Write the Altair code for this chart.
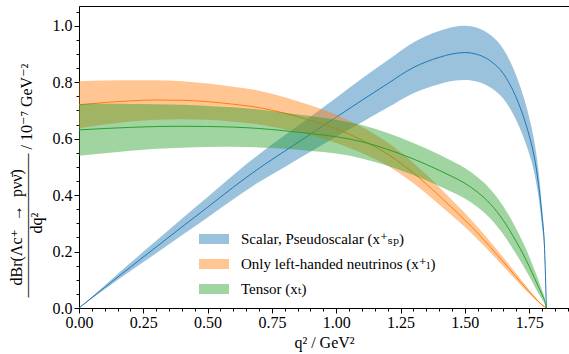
import altair as alt
import pandas as pd

# q^2 grid (GeV^2)
Q = [0.0, 0.1, 0.2, 0.3, 0.4, 0.5, 0.6, 0.7, 0.8, 0.9, 1.0, 1.1, 1.2, 1.3, 1.4,
     1.45, 1.5, 1.55, 1.6, 1.65, 1.7, 1.73, 1.75, 1.77, 1.785, 1.8, 1.81, 1.817]

# Scalar, Pseudoscalar
SP_MID = [0.0, 0.073, 0.145, 0.216, 0.287, 0.357, 0.428, 0.495, 0.556, 0.616, 0.676, 0.736, 0.795, 0.852,
          0.888, 0.900, 0.905, 0.898, 0.875, 0.830, 0.745, 0.672, 0.612, 0.535, 0.450, 0.325, 0.210, 0.0]
SP_LO = [0.0, 0.066, 0.131, 0.194, 0.258, 0.321, 0.385, 0.446, 0.500, 0.554, 0.607, 0.658, 0.710, 0.761,
         0.793, 0.804, 0.808, 0.802, 0.781, 0.741, 0.665, 0.600, 0.547, 0.478, 0.402, 0.290, 0.188, 0.0]
SP_HI = [0.0, 0.080, 0.160, 0.238, 0.316, 0.393, 0.471, 0.545, 0.612, 0.678, 0.745, 0.813, 0.878, 0.941,
         0.981, 0.995, 1.000, 0.992, 0.967, 0.917, 0.823, 0.743, 0.676, 0.591, 0.497, 0.359, 0.232, 0.0]

# Only left-handed neutrinos
L_MID = [0.720, 0.728, 0.734, 0.737, 0.736, 0.731, 0.722, 0.710, 0.690, 0.665, 0.635, 0.595, 0.545, 0.478,
         0.398, 0.355, 0.312, 0.265, 0.215, 0.163, 0.110, 0.078, 0.058, 0.038, 0.024, 0.011, 0.004, 0.0]
L_HI = [0.803, 0.806, 0.807, 0.807, 0.803, 0.795, 0.784, 0.770, 0.747, 0.718, 0.685, 0.641, 0.586, 0.514,
        0.429, 0.383, 0.337, 0.287, 0.234, 0.179, 0.122, 0.087, 0.065, 0.043, 0.027, 0.013, 0.005, 0.0]
L_LO = [0.637, 0.650, 0.661, 0.667, 0.669, 0.667, 0.660, 0.650, 0.633, 0.612, 0.585, 0.549, 0.504, 0.442,
        0.367, 0.327, 0.287, 0.243, 0.196, 0.147, 0.098, 0.069, 0.051, 0.033, 0.021, 0.009, 0.003, 0.0]

# Tensor
T_MID = [0.631, 0.636, 0.640, 0.643, 0.644, 0.643, 0.641, 0.636, 0.628, 0.618, 0.607, 0.589, 0.562, 0.528,
         0.488, 0.466, 0.442, 0.410, 0.368, 0.310, 0.235, 0.185, 0.148, 0.108, 0.078, 0.047, 0.027, 0.0]
T_HI = [0.723, 0.724, 0.723, 0.722, 0.720, 0.716, 0.711, 0.703, 0.692, 0.680, 0.667, 0.648, 0.620, 0.585,
        0.544, 0.521, 0.496, 0.463, 0.420, 0.360, 0.280, 0.225, 0.183, 0.137, 0.102, 0.063, 0.037, 0.0]
T_LO = [0.539, 0.548, 0.557, 0.564, 0.568, 0.570, 0.571, 0.569, 0.564, 0.556, 0.547, 0.530, 0.504, 0.471,
        0.432, 0.411, 0.388, 0.357, 0.316, 0.260, 0.190, 0.145, 0.113, 0.079, 0.054, 0.031, 0.017, 0.0]

NAMES = ["Scalar, Pseudoscalar (x\u207a\u209b\u209a)",
         "Only left-handed neutrinos (x\u207a\u2097)",
         "Tensor (x\u209c)"]
COLORS = ["#1f77b4", "#ff7f0e", "#2ca02c"]

X_MAJOR = [0.0, 0.25, 0.5, 0.75, 1.0, 1.25, 1.5, 1.75]
X_MINOR = [round(0.05 * i, 2) for i in range(39)]
Y_MAJOR = [0.0, 0.2, 0.4, 0.6, 0.8, 1.0]
Y_MINOR = [round(0.05 * i, 2) for i in range(22)]

rows = []
for name, lo, mid, hi in zip(NAMES, [SP_LO, L_LO, T_LO], [SP_MID, L_MID, T_MID], [SP_HI, L_HI, T_HI]):
    for q, a, b, c in zip(Q, lo, mid, hi):
        rows.append({"series": name, "q": q, "lo": a, "mid": b, "hi": c})
df = pd.DataFrame(rows)

FONT = "'Liberation Serif', 'Times New Roman', 'DejaVu Serif', serif"
NB = "\u00a0"
ZW = "\u200b"

xs = alt.Scale(domain=[0, 1.905], nice=False, zero=False)
ys = alt.Scale(domain=[0, 1.07], nice=False, zero=False)
fill_scale = alt.Scale(domain=NAMES, range=COLORS)

legend = alt.Legend(
    title=None, orient="none", legendX=120, legendY=223, padding=0,
    symbolType="M-1,-0.5H2V0.5H-1Z", symbolSize=400, symbolStrokeWidth=0,
    symbolOpacity=0.45, labelFont=FONT, labelFontSize=15, labelColor="black",
    labelOffset=22, rowPadding=7, labelLimit=400,
)

x_axis = alt.Axis(
    orient="bottom", values=X_MAJOR, format=".2f", title="q\u00b2 / GeV\u00b2",
    labelFont=FONT, labelFontSize=16, labelColor="black", labelPadding=1,
    titleFont=FONT, titleFontSize=16, titleFontWeight="normal", titleColor="black", titlePadding=4,
    tickSize=5, tickColor="black", domainColor="black", domainWidth=1, grid=False, labelFlush=False,
)

y_title = [
    ZW + NB * 3 + "dBr(\u039bc\u207a" + NB * 2 + "\u2192" + NB * 2 + "p\u03bd\u03bd\u0304)",
    "\u2014" * 9 + NB + "/" + NB + "10\u207b\u2077" + NB + "GeV\u207b\u00b2",
    ZW + NB * 16 + "dq\u00b2",
]
y_axis = alt.Axis(
    orient="left", values=Y_MAJOR, format=".1f", title=y_title,
    labelFont=FONT, labelFontSize=16, labelColor="black", labelPadding=2,
    titleFont=FONT, titleFontSize=16, titleFontWeight="normal", titleColor="black",
    titleAngle=270, titleAlign="left", titleBaseline="alphabetic",
    titleX=-58, titleY=291, titleLineHeight=10,
    tickSize=5, tickColor="black", domainColor="black", domainWidth=1, grid=False, labelFlush=False,
)

layers = []
for i, (name, col) in enumerate(zip(NAMES, COLORS)):
    sub = alt.Chart(df).transform_filter(alt.datum.series == name)
    area = sub.mark_area(opacity=0.45, interpolate="monotone").encode(
        x=alt.X("q:Q", scale=xs, axis=x_axis if i == 0 else None),
        y=alt.Y("lo:Q", scale=ys, axis=y_axis if i == 0 else None),
        y2="hi:Q",
        fill=alt.Fill("series:N", scale=fill_scale, legend=legend),
    )
    line = sub.mark_line(strokeWidth=1, interpolate="monotone").encode(
        x=alt.X("q:Q", scale=xs, axis=None),
        y=alt.Y("mid:Q", scale=ys, axis=None),
        stroke=alt.value(col),
    )
    layers += [area, line]

ghost = alt.Chart(df).mark_point(opacity=0)
minor_x = ghost.encode(
    x=alt.X("q:Q", scale=xs, axis=alt.Axis(orient="bottom", values=X_MINOR, labels=False, title=None,
                                            tickSize=3, tickColor="black", domain=False, grid=False)),
    y=alt.Y("mid:Q", scale=ys, axis=alt.Axis(orient="left", values=Y_MINOR, labels=False, title=None,
                                              tickSize=3, tickColor="black", domain=False, grid=False)),
)
top_spine = ghost.encode(
    x=alt.X("q:Q", scale=xs, axis=alt.Axis(orient="top", labels=False, ticks=False, title=None,
                                            domainColor="black", domainWidth=1, grid=False)),
    y=alt.Y("mid:Q", scale=ys, axis=None),
)
layers += [minor_x, top_spine]

chart = alt.layer(*layers).resolve_axis(x="independent", y="independent").properties(
    width=490, height=302,
    autosize=alt.AutoSizeParams(type="none"),
    padding={"left": 79, "top": 6, "right": 0, "bottom": 46},
).configure_view(strokeWidth=0).configure(background="white", font=FONT)

chart.save("out.html", embed_options={"renderer": "svg", "actions": False})
